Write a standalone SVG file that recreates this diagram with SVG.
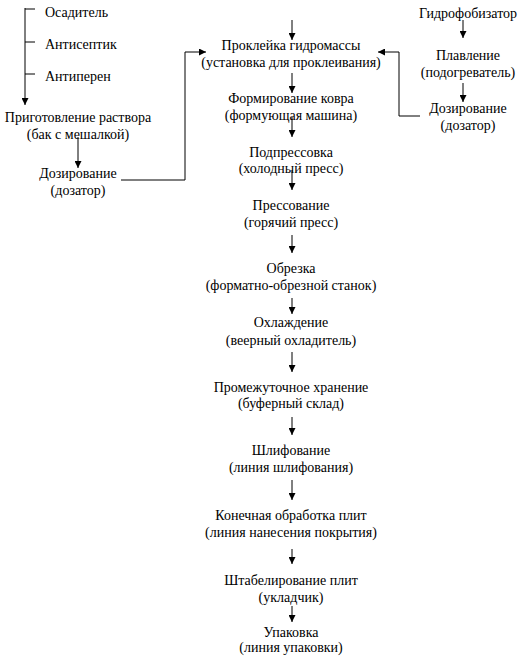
<svg xmlns="http://www.w3.org/2000/svg" width="520" height="657" viewBox="0 0 520 657">
<style>
text{font-family:"Liberation Serif","Times New Roman",serif;font-size:14px;fill:#000}
.c{text-anchor:middle}
.l{stroke:#000;stroke-width:1;fill:none}
</style>
<defs>
<marker id="a" viewBox="0 0 10 10" refX="10" refY="5" markerWidth="7" markerHeight="7" markerUnits="userSpaceOnUse" orient="auto"><path d="M0,0L10,5L0,10z" fill="#000"/></marker>
</defs>
<rect width="520" height="657" fill="#fff"/>
<g id="connectors">
<path class="l" d="M25,8V105" marker-end="url(#a)"/>
<path class="l" d="M25,9H35M25,42H35M25,74H35"/>
<path class="l" d="M78,137V168" marker-end="url(#a)"/>
<path class="l" d="M121,180H185V52H206" marker-end="url(#a)"/>
<path class="l" d="M420,116H399V52H378" marker-end="url(#a)"/>
<path class="l" d="M463,20V38" marker-end="url(#a)"/>
<path class="l" d="M463,83V102" marker-end="url(#a)"/>
<path class="l" d="M292,20V40" marker-end="url(#a)"/>
<path class="l" d="M292,73V93" marker-end="url(#a)"/>
<path class="l" d="M292,117V137" marker-end="url(#a)"/>
<path class="l" d="M292,170V190" marker-end="url(#a)"/>
<path class="l" d="M292,235V253" marker-end="url(#a)"/>
<path class="l" d="M292,298V314" marker-end="url(#a)"/>
<path class="l" d="M292,352V372" marker-end="url(#a)"/>
<path class="l" d="M292,417V435" marker-end="url(#a)"/>
<path class="l" d="M292,480V500" marker-end="url(#a)"/>
<path class="l" d="M292,549V564" marker-end="url(#a)"/>
<path class="l" d="M292,606V622" marker-end="url(#a)"/>
</g>
<g id="osaditel"><text x="45" y="17">Осадитель</text></g>
<g id="antiseptik"><text x="45" y="49">Антисептик</text></g>
<g id="antiperen"><text x="45" y="81">Антиперен</text></g>
<g id="prigotovlenie"><text class="c" x="78" y="122">Приготовление раствора</text><text class="c" x="78" y="139">(бак с мешалкой)</text></g>
<g id="dozirovanie-left"><text class="c" x="78" y="178">Дозирование</text><text class="c" x="78" y="195">(дозатор)</text></g>
<g id="gidrofobizator"><text class="c" x="468" y="18">Гидрофобизатор</text></g>
<g id="plavlenie"><text class="c" x="468" y="60">Плавление</text><text class="c" x="468" y="77">(подогреватель)</text></g>
<g id="dozirovanie-right"><text class="c" x="468" y="113">Дозирование</text><text class="c" x="468" y="130">(дозатор)</text></g>
<g id="prokleyka"><text class="c" x="291" y="50">Проклейка гидромассы</text><text class="c" x="291" y="67">(установка для проклеивания)</text></g>
<g id="formirovanie"><text class="c" x="291" y="103">Формирование ковра</text><text class="c" x="291" y="120">(формующая машина)</text></g>
<g id="podpressovka"><text class="c" x="291" y="157">Подпрессовка</text><text class="c" x="291" y="173">(холодный пресс)</text></g>
<g id="pressovanie"><text class="c" x="291" y="210">Прессование</text><text class="c" x="291" y="227">(горячий пресс)</text></g>
<g id="obrezka"><text class="c" x="291" y="273">Обрезка</text><text class="c" x="291" y="290">(форматно-обрезной станок)</text></g>
<g id="ohlazhdenie"><text class="c" x="291" y="327">Охлаждение</text><text class="c" x="291" y="345">(веерный охладитель)</text></g>
<g id="hranenie"><text class="c" x="291" y="392">Промежуточное хранение</text><text class="c" x="291" y="408">(буферный склад)</text></g>
<g id="shlifovanie"><text class="c" x="291" y="455">Шлифование</text><text class="c" x="291" y="472">(линия шлифования)</text></g>
<g id="obrabotka"><text class="c" x="291" y="520">Конечная обработка плит</text><text class="c" x="291" y="537">(линия нанесения покрытия)</text></g>
<g id="shtabelirovanie"><text class="c" x="291" y="585">Штабелирование плит</text><text class="c" x="291" y="602">(укладчик)</text></g>
<g id="upakovka"><text class="c" x="291" y="637">Упаковка</text><text class="c" x="291" y="652">(линия упаковки)</text></g>
</svg>
